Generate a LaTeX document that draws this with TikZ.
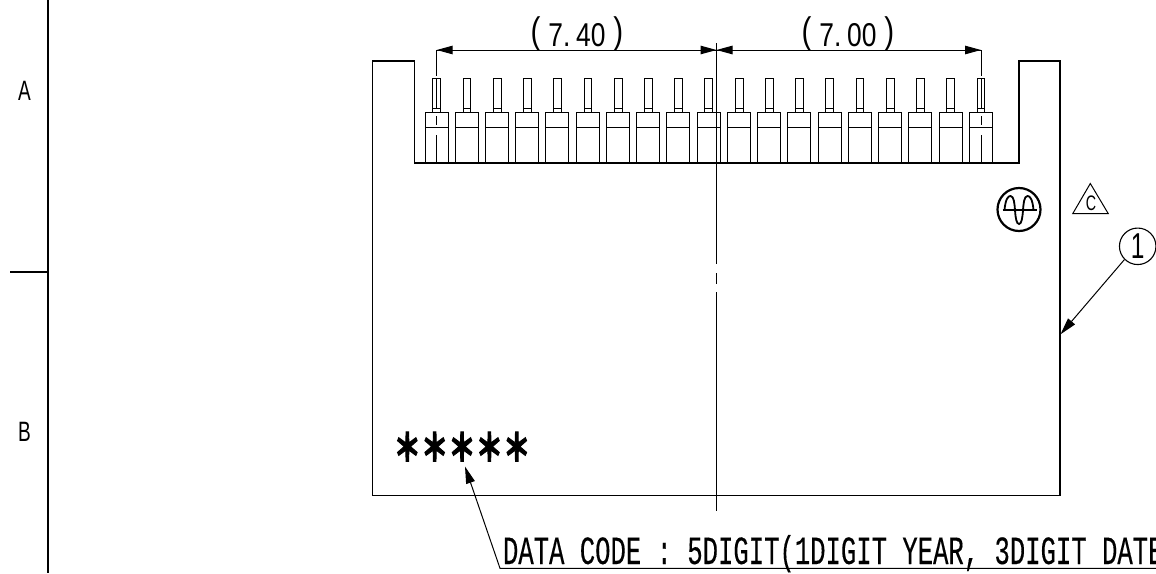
\documentclass[tikz,border=0pt]{standalone}
\usepackage{fontspec}
\usetikzlibrary{arrows.meta}
\newfontfamily\gothfont[FakeStretch=0.64,FakeBold=0.25]{Liberation Mono}
\newfontfamily\digitfont[FakeStretch=0.8]{Liberation Sans}
\newfontfamily\narrowfont[FakeStretch=0.68]{Liberation Sans}
\newfontfamily\starfont[FakeStretch=0.72,BoldFeatures={FakeStretch=0.72,FakeBold=2.5}]{Noto Sans CJK JP}
\newcommand{\dimsize}{\fontsize{33}{35}\selectfont}
\newcommand{\codesize}{\fontsize{40}{42}\selectfont}
\newcommand{\tallparen}[1]{\raisebox{3pt}{\fontsize{37}{39}\selectfont #1}}
\tikzset{
  x=1pt,y=-1pt,
  part/.style={draw=black,line width=1.1pt},
  thin line/.style={draw=black,line width=1pt},
  leader/.style={draw=black,line width=1pt},
  dimtip/.style={-{Triangle[length=16pt,width=8.5pt]}},
  leadtip/.style={{Triangle[length=17pt,width=9pt]}-},
  txt/.style={inner sep=0pt,outer sep=0pt,anchor=base,text=black},
}
\begin{document}
\begin{tikzpicture}
\useasboundingbox (0,0) rectangle (1156,573);
\clip (0,0) rectangle (1156,573);
% border zones
\draw[part] (48,0) -- (48,573);
\draw[part] (10,272) -- (48,272);
\node[txt,font=\narrowfont\fontsize{28}{30}\selectfont] (zoneA) at (24.5,100) {A};
\node[txt,font=\narrowfont\fontsize{28}{30}\selectfont] (zoneB) at (24.5,441) {B};
% outline
\draw[part,line join=miter] (372.5,61) -- (414.5,61) -- (414.5,163) -- (1019,163) -- (1019,61) -- (1060,61) -- (1060,495.5) -- (372.5,495.5) -- cycle;
% pins
\foreach \i in {0,...,18}{
  \pgfmathsetmacro{\xa}{425+30.24*\i}
  \pgfmathsetmacro{\xb}{\xa+23}
  \pgfmathsetmacro{\pa}{\xa+7.8}
  \pgfmathsetmacro{\pb}{\xa+15.6}
  \draw[thin line] (\xa,163) -- (\xa,112.5) -- (\xb,112.5) -- (\xb,163);
  \draw[thin line] (\xa,127.5) -- (\xb,127.5);
  \draw[thin line] (\pa,112.5) -- (\pa,78.5) -- (\pb,78.5) -- (\pb,112.5);
  \draw[thin line] (\pa,108) -- (\pb,108);
}
% pin centre lines
\foreach \cx in {436.7,981}{
  \draw[thin line] (\cx,78.5) -- (\cx,108);
  \draw[thin line] (\cx,116) -- (\cx,125);
  \draw[thin line] (\cx,135) -- (\cx,163);
}
% centre line
\draw[thin line] (716.5,43) -- (716.5,263.5);
\draw[thin line] (716.5,273) -- (716.5,283.5);
\draw[thin line] (716.5,292) -- (716.5,511);
% dimensions
\coordinate (dl) at (436.7,50);
\coordinate (dm) at (716.5,50);
\coordinate (dr) at (981,50);
\draw[leader] (dl) -- (436.7,75.5);
\draw[leader] (dr) -- (981,75.5);
\draw[leader,dimtip] (dm) -- (dl);
\draw[leader,dimtip] (dl) -- (dm);
\draw[leader,dimtip] (dm) -- (dr);
\draw[leader,dimtip] (dr) -- (dm);
\node[txt,font=\digitfont\dimsize] (dimA) at (577,46) {\tallparen{(} \kern0.5pt 7. \kern-4pt 40 \kern0.5pt \tallparen{)}};
\node[txt,font=\digitfont\dimsize] (dimB) at (848,46) {\tallparen{(} \kern0.5pt 7. \kern-4pt 00 \kern0.5pt \tallparen{)}};
% symbols
\node[circle,draw=black,line width=2.2pt,minimum size=43pt,inner sep=0pt] (wave) at (1019,209.5) {};
\draw[line width=1.8pt] (1002.7,210) -- (1036.7,210);
\draw[line width=1.8pt] (1004.5,210) .. controls (1005.5,199) and (1008,196) .. (1010.5,196)
  .. controls (1014,196) and (1014.5,204) .. (1015,210)
  .. controls (1015.5,218) and (1016.5,224) .. (1019,224)
  .. controls (1021.5,224) and (1022.5,218) .. (1023,210)
  .. controls (1023.5,204) and (1024,196) .. (1027.5,196)
  .. controls (1030,196) and (1032.5,199) .. (1033.5,210);
\draw[thin line,line join=miter] (1090.3,183.5) -- (1108.3,213.7) -- (1072.7,213.7) -- cycle;
\node[txt,font=\narrowfont\fontsize{21}{23}\selectfont] (rev) at (1091,210) {C};
% balloon 1
\node[circle,draw=black,line width=1.1pt,minimum size=36.5pt,inner sep=0pt,font=\narrowfont\fontsize{36}{38}\selectfont] (one) at (1137.7,246.3) {1};
\coordinate (onetip) at (1060.5,334.3);
\draw[leader,leadtip] (onetip) -- (one.225);
% date code
\node[txt,font=\starfont\bfseries\fontsize{38}{40}\selectfont] (stars) at (462,461) {＊＊＊＊＊};
\coordinate (ctip) at (465,466.5);
\coordinate (celbow) at (500,568.3);
\coordinate (cend) at (1156,568.3);
\draw[leader,leadtip] (ctip) -- (celbow) -- (cend);
\node[txt,anchor=base west,font=\gothfont\codesize] (dcode) at (503,564) {DATA CODE : 5DIGIT(1DIGIT YEAR, 3DIGIT DATE};
\end{tikzpicture}
\end{document}
